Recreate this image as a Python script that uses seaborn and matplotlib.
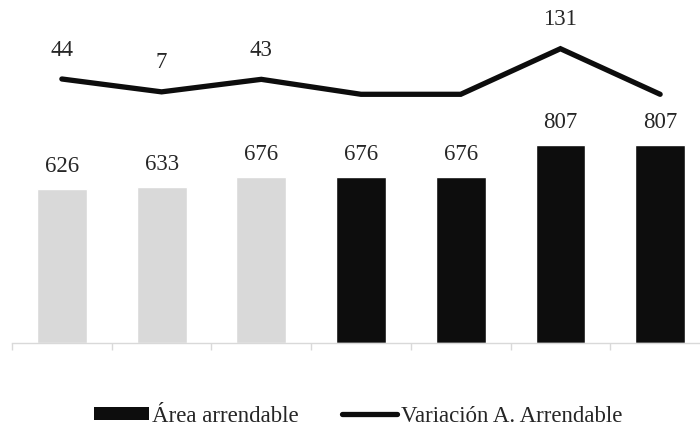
import numpy as np
import pandas as pd
import matplotlib
matplotlib.use("Agg")
import matplotlib.pyplot as plt
from matplotlib.patches import Patch
from matplotlib.lines import Line2D
import seaborn as sns

# Data
periodos = ["P1", "P2", "P3", "P4", "P5", "P6", "P7"]
area_arrendable = [626, 633, 676, 676, 676, 807, 807]
variacion = [44, 7, 43, 0, 0, 131, 0]
colores_barras = ["#d9d9d9", "#d9d9d9", "#d9d9d9", "#0d0d0d", "#0d0d0d", "#0d0d0d", "#0d0d0d"]
leyenda = ["Área arrendable", "Variación A. Arrendable"]

sns.set_theme(style="white")
plt.rcParams["font.family"] = ["Liberation Serif", "DejaVu Serif"]

W, H = 700, 428
fig = plt.figure(figsize=(W / 100, H / 100), dpi=100)
fig.patch.set_facecolor("white")

base_px, top_px = 342.5, 5.0
ax = fig.add_axes([12 / W, 1 - base_px / H, 698 / W, (base_px - top_px) / H])

df = pd.DataFrame({"periodo": periodos, "area": area_arrendable})
sns.barplot(data=df, x="periodo", y="area", hue="periodo", palette=colores_barras,
            width=0.5, legend=False, ax=ax, saturation=1)

bar_scale = 0.245  # px per unit
ax.set_ylim(0, (base_px - top_px) / bar_scale)
ax.set_xlim(-0.5, 6.5)

# Secondary axis for the variation line
ax2 = ax.twinx()
line_scale = 0.348
zero_px = 94.3
ax2.set_ylim(-(base_px - zero_px) / line_scale, (zero_px - top_px) / line_scale)
sns.lineplot(x=np.arange(len(variacion)), y=variacion, ax=ax2, color="#0d0d0d",
             linewidth=3.8, solid_capstyle="round", solid_joinstyle="miter")
ax2.set_xlim(-0.5, 6.5)

fs = 16.5
for i, v in enumerate(area_arrendable):
    ax.annotate(f"{v}", (i, v), xytext=(0, 16.4), textcoords="offset points",
                ha="center", va="center", fontsize=fs, color="#262626")
for i, v in enumerate(variacion):
    if v != 0:
        ax2.annotate(f"{v}", (i, v), xytext=(0, 20.8), textcoords="offset points",
                     ha="center", va="center", fontsize=fs, color="#262626")

# Axis styling
for a in (ax, ax2):
    for s in ("top", "right", "left"):
        a.spines[s].set_visible(False)
    a.set_yticks([])
    a.set_ylabel("")
    a.set_xlabel("")
ax2.spines["bottom"].set_visible(False)
ax.spines["bottom"].set_color("#d9d9d9")
ax.spines["bottom"].set_linewidth(1.0)
ax.set_xticks(np.arange(-0.5, 7.0, 1.0))
ax.set_xticklabels([])
ax.tick_params(axis="x", direction="out", length=5, width=1.0, color="#d9d9d9", bottom=True)
ax2.tick_params(axis="x", bottom=False, labelbottom=False)

handles = [Patch(facecolor="#0d0d0d", edgecolor="none"),
           Line2D([0], [0], color="#0d0d0d", linewidth=3.8)]
fig.legend(handles, leyenda, loc="center", bbox_to_anchor=(0.5 + 8 / W, 1 - 416 / H),
           ncol=2, frameon=False, fontsize=fs, handlelength=2.4, handleheight=0.5,
           handletextpad=0.15, columnspacing=1.9, labelcolor="#262626")

fig.savefig("out.png", dpi=100, facecolor="white")
